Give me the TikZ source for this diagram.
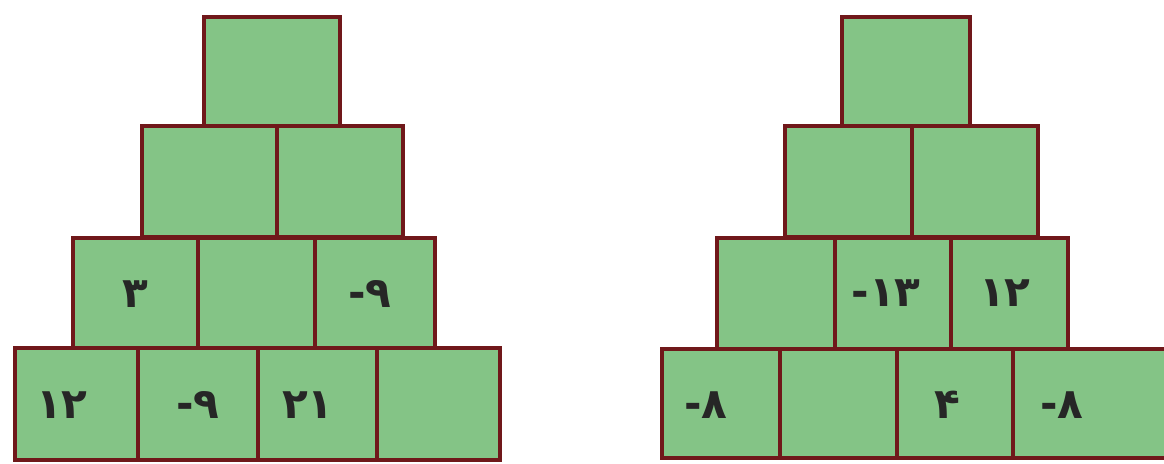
\documentclass[tikz,border=0pt]{standalone}
\usepackage{fontspec}
\newfontfamily\persianfont[Script=Arabic]{DejaVu Sans}
\usepackage{tikz}
\definecolor{boxgreen}{RGB}{132,196,134}
\definecolor{boxred}{RGB}{112,24,26}
\tikzset{cell/.style={draw=boxred,fill=boxgreen,line width=3.4pt,line join=miter},
         num/.style={inner sep=0pt,font=\persianfont\bfseries\fontsize{30}{34}\selectfont,text=black!85}}
\newcommand{\minusnum}[1]{\hbox{-}\hbox{#1}}

\begin{document}
\begin{tikzpicture}[x=0.025cm,y=-0.025cm]
    \useasboundingbox[fill=white] (0,0) rectangle (1164,464);
    \clip (0,0) rectangle (1164,464);

    % left pyramid
    \draw[cell] (204,17) rectangle (340,126);

    \draw[cell] (142,126) rectangle (277,237);
    \draw[cell] (277,126) rectangle (403,237);

    \draw[cell] (73,238) rectangle (198,348);
    \draw[cell] (198,238) rectangle (315,348);
    \draw[cell] (315,238) rectangle (435,348);

    \draw[cell] (15,348) rectangle (138,460);
    \draw[cell] (138,348) rectangle (258,460);
    \draw[cell] (258,348) rectangle (377,460);
    \draw[cell] (377,348) rectangle (500,460);

    \node[num] (la31) at (135,294) {۳};
    \node[num] (la33) at (370,294) {\minusnum{۹}};
    \node[num] (la41) at (62,405) {۱۲};
    \node[num] (la42) at (198,405) {\minusnum{۹}};
    \node[num] (la43) at (308,405) {۲۱};

    % right pyramid
    \draw[cell] (842,17) rectangle (970,126);

    \draw[cell] (785,126) rectangle (912,237);
    \draw[cell] (912,126) rectangle (1038,237);

    \draw[cell] (717,238) rectangle (835,349);
    \draw[cell] (835,238) rectangle (951,349);
    \draw[cell] (951,238) rectangle (1068,349);

    \draw[cell] (662,349) rectangle (780,458);
    \draw[cell] (780,349) rectangle (897,458);
    \draw[cell] (897,349) rectangle (1013,458);
    \draw[cell] (1013,349) rectangle (1180,458);

    \node[num] (ra32) at (886,293) {\minusnum{۱۳}};
    \node[num] (ra33) at (1005,293) {۱۲};
    \node[num] (ra41) at (706,405) {\minusnum{۸}};
    \node[num] (ra43) at (947,405) {۴};
    \node[num] (ra44) at (1062,405) {\minusnum{۸}};
\end{tikzpicture}
\end{document}
